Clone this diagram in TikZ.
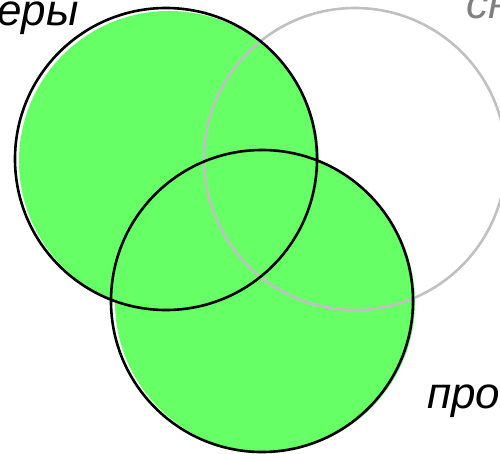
\documentclass[tikz,border=0pt]{standalone}
\usepackage{fontspec}
\setmainfont{Liberation Sans}
\definecolor{vgreen}{HTML}{66FF66}
\definecolor{cgray}{HTML}{C0C0C0}
\definecolor{tgray}{HTML}{808080}
\begin{document}
\begin{tikzpicture}[x=1pt,y=-1pt,
  fillc/.style={fill=vgreen,draw=none},
  blackc/.style={draw=black,line width=2.6pt},
  grayc/.style={draw=cgray,line width=2.6pt},
  lbl/.style={font=\fontsize{44}{50}\selectfont\itshape,inner sep=0pt}]
\useasboundingbox (0,0) rectangle (500,453);
\clip (0,0) rectangle (500,453);
% fills (slightly offset as in the reference)
\fill[fillc] (169,161) circle[radius=150];
\fill[fillc] (265,302) circle[radius=150];
% outlines
\draw[grayc] (355,159) circle[radius=151];
\draw[blackc] (166,159) circle[radius=151];
\draw[blackc] (262,301) circle[radius=151];
% labels
\node[lbl,anchor=base east] (a) at (79,25) {еры};
\node[lbl,anchor=base west,text=tgray] (b) at (466,18) {сн};
\node[lbl,anchor=base west] (c) at (427,408) {про};
\end{tikzpicture}
\end{document}
